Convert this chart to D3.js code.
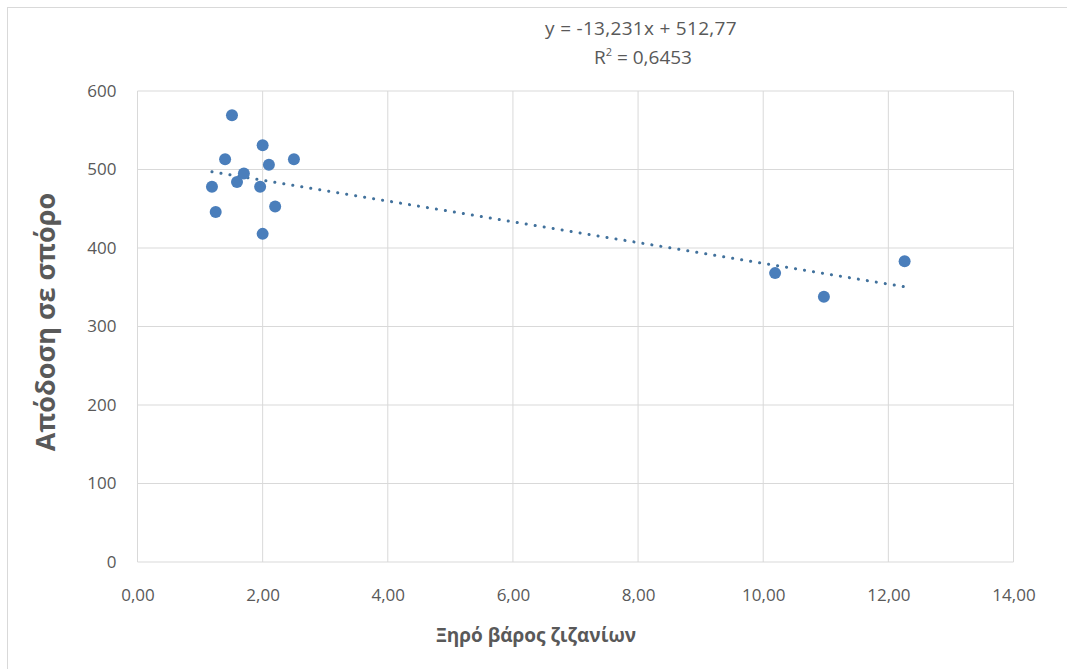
<!DOCTYPE html>
<html><head><meta charset="utf-8">
<script src="https://cdn.jsdelivr.net/npm/d3@7"></script>
<style>body{margin:0;background:#fff;} svg{display:block;font-family:"Open Sans",sans-serif;}</style>
</head><body>
<script>
const xValues = [1.51, 2.00, 1.40, 2.50, 2.10, 1.70, 1.59, 1.19, 1.96, 2.20, 1.25, 2.00, 10.19, 10.97, 12.26];
const yValues = [569, 531, 513, 513, 506, 495, 484, 478, 478, 453, 446, 418, 368, 338, 383];
const xTicks = [0, 2, 4, 6, 8, 10, 12, 14];
const yTicks = [0, 100, 200, 300, 400, 500, 600];
const slope = -13.231, intercept = 512.77;
const equationText = "y = -13,231x + 512,77";
const r2Text = "0,6453";
const xTitle = "Ξηρό βάρος ζιζανίων";
const yTitle = "Απόδοση σε σπόρο";

const W = 1067, H = 669;
const svg = d3.select("body").append("svg").attr("width", W).attr("height", H);
svg.append("rect").attr("x", 7.5).attr("y", 7.5).attr("width", 1100).attr("height", 700)
  .attr("fill", "#fff").attr("stroke", "#d9d9d9");

const x = d3.scaleLinear().domain([0, 14]).range([137.5, 1013.5]);
const y = d3.scaleLinear().domain([0, 600]).range([562, 91]);
const fmt = d => d.toFixed(2).replace(".", ",");

const grid = svg.append("g");
grid.selectAll(".vg").data(xTicks).join("line")
  .attr("x1", d => x(d)).attr("x2", d => x(d)).attr("y1", y(0)).attr("y2", y(600))
  .attr("stroke", "#d9d9d9").attr("stroke-width", 1);
grid.selectAll(".hg").data(yTicks).join("line")
  .attr("x1", x(0)).attr("x2", x(14)).attr("y1", d => y(d)).attr("y2", d => y(d))
  .attr("stroke", "#d9d9d9").attr("stroke-width", 1);

const xAxis = svg.append("g").attr("transform", `translate(0,${y(0)})`)
  .call(d3.axisBottom(x).tickValues(xTicks).tickFormat(fmt).tickSize(0).tickPadding(27));
xAxis.select(".domain").remove();
xAxis.selectAll("text").attr("fill", "#595959").style("font-size", "17px").style("font-family", "'Open Sans',sans-serif");

const yAxis = svg.append("g").attr("transform", `translate(${x(0)},0)`)
  .call(d3.axisLeft(y).tickValues(yTicks).tickFormat(d3.format("d")).tickSize(0).tickPadding(21));
yAxis.select(".domain").remove();
yAxis.selectAll("text").attr("fill", "#595959").style("font-size", "17px").style("font-family", "'Open Sans',sans-serif");

// trendline
const x0 = d3.min(xValues), x1 = d3.max(xValues);
svg.append("line")
  .attr("x1", x(x0)).attr("y1", y(slope * x0 + intercept))
  .attr("x2", x(x1)).attr("y2", y(slope * x1 + intercept))
  .attr("stroke", "#41719c").attr("stroke-width", 3)
  .attr("stroke-dasharray", "0.1 9").attr("stroke-linecap", "round");

// points
svg.append("g").selectAll("circle").data(xValues).join("circle")
  .attr("cx", d => x(d)).attr("cy", (d, i) => y(yValues[i])).attr("r", 6)
  .attr("fill", "#4a7ebb");

// equation
svg.append("text").attr("x", 641).attr("y", 35).attr("text-anchor", "middle")
  .attr("fill", "#595959").style("font-size", "19px").style("letter-spacing", "0.3px").text(equationText);
const r2 = svg.append("text").attr("x", 643).attr("y", 64).attr("text-anchor", "middle")
  .attr("fill", "#595959").style("font-size", "19px");
r2.append("tspan").text("R");
r2.append("tspan").attr("dy", -8).style("font-size", "11px").text("2");
r2.append("tspan").attr("dy", 8).text(" = " + r2Text);

// titles
svg.append("text").attr("x", 536).attr("y", 642).attr("text-anchor", "middle")
  .attr("fill", "#595959").style("font-size", "19px").style("font-weight", "bold").text(xTitle);
svg.append("text").attr("transform", "translate(55,322) rotate(-90)").attr("text-anchor", "middle")
  .attr("fill", "#595959").style("font-size", "27px").style("font-weight", "bold").text(yTitle);
</script>
</body></html>
